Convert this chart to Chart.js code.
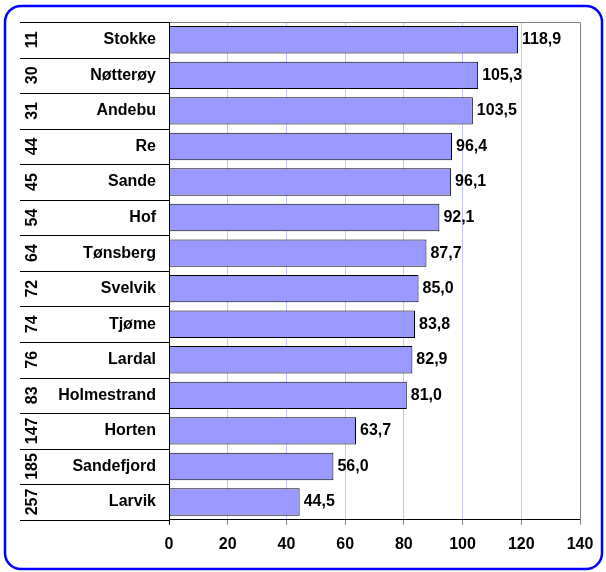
<!DOCTYPE html>
<html>
<head>
<meta charset="utf-8">
<script src="https://cdn.jsdelivr.net/npm/chart.js@4"></script>
<style>
  html, body { margin: 0; padding: 0; background: #fff; }
</style>
</head>
<body>
<canvas id="chart" width="606" height="572"></canvas>
<script>
// kommuner, rangering og verdi
const names = ['Stokke', 'Nøtterøy', 'Andebu', 'Re', 'Sande', 'Hof', 'Tønsberg', 'Svelvik', 'Tjøme', 'Lardal', 'Holmestrand', 'Horten', 'Sandefjord', 'Larvik'];
const ranks = [11, 30, 31, 44, 45, 54, 64, 72, 74, 76, 83, 147, 185, 257];
const values = [118.9, 105.3, 103.5, 96.4, 96.1, 92.1, 87.7, 85.0, 83.8, 82.9, 81.0, 63.7, 56.0, 44.5];
const xTicks = [0, 20, 40, 60, 80, 100, 120, 140];

const FONT = 'Liberation Sans, Arial, sans-serif';
const fmt = v => v.toFixed(1).replace('.', ',');

// tabell til venstre, verdier og ramme
const decor = {
    id: 'decor',
    afterDraw(chart) {
        const ctx = chart.ctx;
        const a = chart.chartArea;
        const y = chart.scales.y;
        const x = chart.scales.x;
        const tableLeft = 20;
        const step = (a.bottom - a.top) / names.length;

        ctx.save();
        // plot area top + right border (grey)
        ctx.strokeStyle = '#808080';
        ctx.lineWidth = 1;
        ctx.beginPath();
        ctx.moveTo(a.left, a.top + 0.5);
        ctx.lineTo(a.right + 0.5, a.top + 0.5);
        ctx.lineTo(a.right + 0.5, a.bottom);
        ctx.stroke();

        // row separators in the table
        ctx.strokeStyle = '#000';
        ctx.beginPath();
        for (let i = 0; i <= names.length; i++) {
            const yy = Math.round(a.top + i * step) + 0.5;
            ctx.moveTo(tableLeft, yy);
            ctx.lineTo(a.left, yy);
        }
        // y axis line
        ctx.moveTo(Math.round(a.left) + 0.5, a.top);
        ctx.lineTo(Math.round(a.left) + 0.5, a.bottom + 5);
        ctx.stroke();

        ctx.fillStyle = '#000';
        ctx.font = 'bold 16px ' + FONT;
        ctx.textBaseline = 'middle';
        names.forEach((n, i) => {
            const yc = y.getPixelForValue(i);
            ctx.textAlign = 'right';
            ctx.fillText(n, a.left - 13, yc);
            ctx.save();
            ctx.translate(33, yc);
            ctx.rotate(-Math.PI / 2);
            ctx.textAlign = 'center';
            ctx.fillText(String(ranks[i]), 0, 0);
            ctx.restore();
            ctx.textAlign = 'left';
            ctx.fillText(fmt(values[i]), x.getPixelForValue(values[i]) + 4, yc);
        });

        // rounded outer frame
        ctx.strokeStyle = '#0000ff';
        ctx.lineWidth = 2.5;
        ctx.beginPath();
        ctx.roundRect(5, 6, 597, 563, 16);
        ctx.stroke();
        ctx.restore();
    }
};

new Chart(document.getElementById('chart'), {
    type: 'bar',
    data: {
        labels: names,
        datasets: [{
            data: values,
            backgroundColor: '#9999ff',
            borderColor: '#000',
            borderWidth: 1,
            categoryPercentage: 1,
            barPercentage: 0.77
        }]
    },
    options: {
        indexAxis: 'y',
        responsive: false,
        animation: false,
        devicePixelRatio: 1,
        layout: { padding: { left: 169, top: 22, right: 26, bottom: 8 } },
        plugins: { legend: { display: false }, tooltip: { enabled: false } },
        scales: {
            y: { display: false },
            x: {
                min: 0,
                max: 140,
                afterBuildTicks: s => { s.ticks = xTicks.map(v => ({ value: v })); },
                border: { display: true, color: '#000', width: 1 },
                grid: {
                    color: c => (c.tick && c.tick.value > 0 && c.tick.value < 140) ? '#c4c4ff' : 'rgba(0,0,0,0)',
                    tickColor: '#808080',
                    tickLength: 5
                },
                ticks: {
                    color: '#000',
                    padding: 10,
                    maxRotation: 0,
                    font: { family: FONT, size: 16, weight: 'bold' }
                }
            }
        }
    },
    plugins: [decor]
});
</script>
</body>
</html>
